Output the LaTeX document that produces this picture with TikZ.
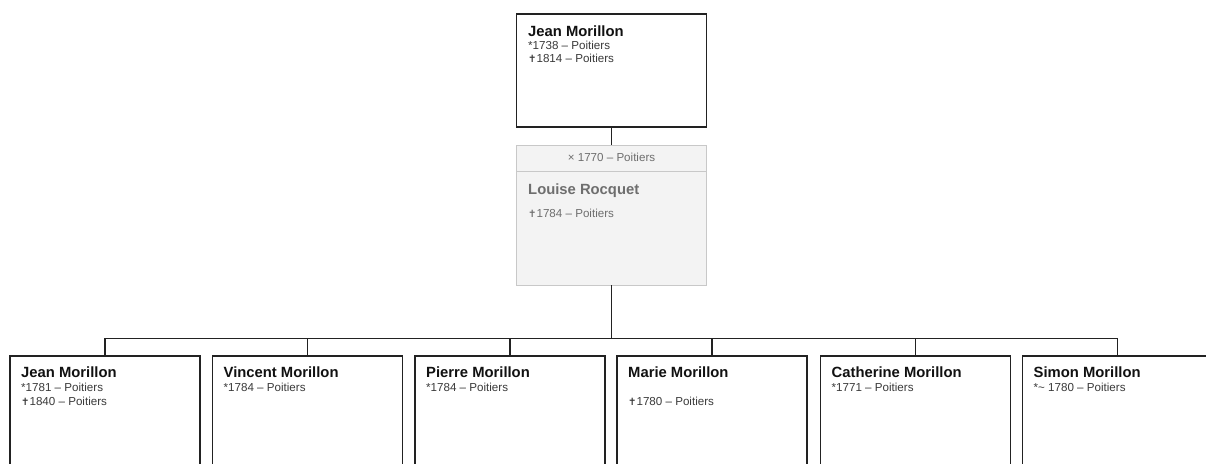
\documentclass[tikz,border=0pt]{standalone}
\usepackage{fontspec}
\setmainfont{Liberation Sans}
\newfontfamily\symfont{DejaVu Sans}
\usetikzlibrary{calc}
\definecolor{boxline}{HTML}{222222}
\definecolor{namecol}{HTML}{111111}
\definecolor{infocol}{HTML}{3A3A3A}
\definecolor{spfill}{HTML}{F3F3F3}
\definecolor{spline}{HTML}{C8C8C8}
\definecolor{sptext}{HTML}{6E6E6E}
\newcommand{\dg}{{\symfont\bfseries\fontsize{10}{10}\selectfont\char"271D}}
\begin{document}
\begin{tikzpicture}[x=1pt,y=-1pt,
  person/.style={draw=boxline, line width=1.5pt, fill=white, minimum width=190pt,
    anchor=north west, inner sep=0pt, outer sep=0pt},
  spousebox/.style={draw=spline, line width=1pt, fill=spfill, minimum width=190pt,
    minimum height=140pt, anchor=north west, inner sep=0pt, outer sep=0pt},
  pname/.style={anchor=base west, inner sep=0pt, text=namecol,
    font=\fontsize{14.8}{17}\selectfont\bfseries},
  info/.style={anchor=base west, inner sep=0pt, text=infocol,
    font=\fontsize{11.6}{13}\selectfont},
  spname/.style={pname, text=sptext},
  spinfo/.style={info, text=sptext},
  conn/.style={draw=boxline, line width=1.5pt}
]
\clip (0,0) rectangle (1206,463);
\fill[white] (0,0) rectangle (1206,463);

% father
\node[person, minimum height=113pt] (father) at (516.5,14) {};
\node[pname] (fn) at (528,36.5) {Jean Morillon};
\node[info] (fb) at (528,49) {*1738 – Poitiers};
\node[info] (fd) at (528,62) {\dg1814 – Poitiers};

% spouse
\node[spousebox] (spouse) at (516.5,145) {};
\draw[spline, line width=1pt] ($(spouse.north west)+(0,26)$) -- ($(spouse.north east)+(0,26)$);
\node[spinfo, anchor=base] (sm) at (611.5,161.5) {× 1770 – Poitiers};
\node[spname] (sn) at (528,194) {Louise Rocquet};
\node[spinfo] (sd) at (528,217.5) {\dg1784 – Poitiers};

% children
\node[person, minimum height=125pt] (c1) at (10,356) {};
\node[person, minimum height=125pt] (c2) at (212.5,356) {};
\node[person, minimum height=125pt] (c3) at (415,356) {};
\node[person, minimum height=125pt] (c4) at (617,356) {};
\node[person, minimum height=125pt] (c5) at (820.5,356) {};
\node[person, minimum height=125pt] (c6) at (1022.5,356) {};

\node[pname] (c1n) at (21,377) {Jean Morillon};
\node[info] (c1b) at (21,391.5) {*1781 – Poitiers};
\node[info] (c1d) at (21,405) {\dg1840 – Poitiers};

\node[pname] (c2n) at (223.5,377) {Vincent Morillon};
\node[info] (c2b) at (223.5,391.5) {*1784 – Poitiers};

\node[pname] (c3n) at (426,377) {Pierre Morillon};
\node[info] (c3b) at (426,391.5) {*1784 – Poitiers};

\node[pname] (c4n) at (628,377) {Marie Morillon};
\node[info] (c4d) at (628,405) {\dg1780 – Poitiers};

\node[pname] (c5n) at (831.5,377) {Catherine Morillon};
\node[info] (c5b) at (831.5,391.5) {*1771 – Poitiers};

\node[pname] (c6n) at (1033.5,377) {Simon Morillon};
\node[info] (c6b) at (1033.5,391.5) {*\textasciitilde{} 1780 – Poitiers};

% connectors
\draw[conn] (father.south) -- (spouse.north);
\coordinate (bar) at (611.5,338.5);
\draw[conn] (spouse.south) -- (bar);
\foreach \c in {c1,c2,c3,c4,c5,c6}{
  \draw[conn] (\c.north) |- (bar);
}
\end{tikzpicture}
\end{document}
